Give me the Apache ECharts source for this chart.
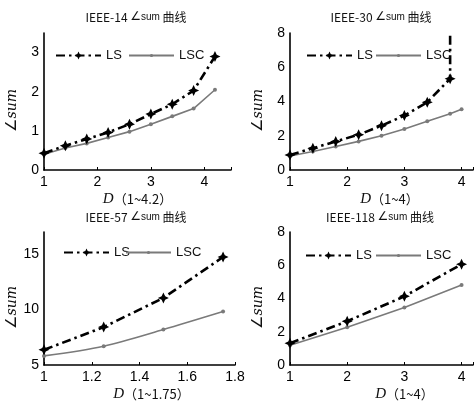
<!DOCTYPE html>
<html>
<head>
<meta charset="utf-8">
<script src="https://cdn.jsdelivr.net/npm/echarts@6/dist/echarts.min.js"></script>
<style>
html, body { margin: 0; padding: 0; background: #fff; }
#main { width: 476px; height: 403px; }
</style>
</head>
<body>
<div id="main"></div>
<script>
// IEEE-14
var x14 = [1, 1.4, 1.8, 2.2, 2.6, 3.0, 3.4, 3.8, 4.2];
var ls14 = [0.43, 0.62, 0.79, 0.96, 1.17, 1.43, 1.68, 2.03, 2.9];
var lsc14 = [0.4, 0.56, 0.68, 0.83, 0.98, 1.17, 1.37, 1.57, 2.05];
// IEEE-30 (LS jumps straight up at D=3.8)
var x30 = [1, 1.4, 1.8, 2.2, 2.6, 3.0, 3.4, 3.8];
var ls30 = [0.88, 1.27, 1.67, 2.06, 2.59, 3.18, 3.96, 5.33];
var ls30Tail = 8;
var x30c = [1, 1.4, 1.8, 2.2, 2.6, 3.0, 3.4, 3.8, 4.0];
var lsc30 = [0.82, 1.08, 1.37, 1.67, 2.0, 2.39, 2.84, 3.29, 3.55];
// IEEE-57
var x57 = [1, 1.25, 1.5, 1.75];
var ls57 = [6.37, 8.42, 11.05, 14.74];
var lsc57 = [5.82, 6.7, 8.2, 9.82];
// IEEE-118
var x118 = [1, 2, 3, 4];
var ls118 = [1.31, 2.63, 4.13, 6.06];
var lsc118 = [1.19, 2.27, 3.46, 4.81];

var titles = ['IEEE-14 ', 'IEEE-30 ', 'IEEE-57 ', 'IEEE-118 '];
var xNames = ['1~4.2', '1~4', '1~1.75', '1~4'];

function pairs(xs, ys) {
	return xs.map(function (x, i) { return [x, ys[i]]; });
}

var star = 'path://M5,0 L6.6,3.4 L10,5 L6.6,6.6 L5,10 L3.4,6.6 L0,5 L3.4,3.4 Z';
var font = 'Liberation Sans, Arial, sans-serif';

function lsSeries(idx, data) {
	return {
		name: 'LS', type: 'line', xAxisIndex: idx, yAxisIndex: idx,
		data: data, symbol: star, symbolSize: 11,
		itemStyle: { color: '#000' },
		lineStyle: { color: '#000', width: 2.6, type: [9, 4, 2.5, 4] },
		z: 3
	};
}
function lscSeries(idx, data, smooth) {
	return {
		name: 'LSC', type: 'line', xAxisIndex: idx, yAxisIndex: idx,
		data: data, symbol: 'circle', symbolSize: 4, smooth: smooth || false,
		itemStyle: { color: '#7a7a7a' },
		lineStyle: { color: '#7a7a7a', width: 1.6 },
		z: 2
	};
}

var grids = [
	{ left: 44, right: 245, top: 33, bottom: 233 },
	{ left: 290, right: 0, top: 33, bottom: 233 },
	{ left: 44, right: 241, top: 232, bottom: 35 },
	{ left: 290, right: 0, top: 232, bottom: 35 }
];
var xCfg = [
	{ min: 1, max: 4.5, interval: 1, pad: 0 },
	{ min: 1, max: 4.2, interval: 1, pad: 16 },
	{ min: 1, max: 1.8, interval: 0.2, pad: 24 },
	{ min: 1, max: 4.2, interval: 1, pad: 46 }
];
var yCfg = [
	{ min: 0, max: 3.5, interval: 1 },
	{ min: 0, max: 8, interval: 2 },
	{ min: 5, max: 17, interval: 5 },
	{ min: 0, max: 8, interval: 2 }
];
var titlePos = [[136, 11], [381, 11], [136, 211], [380, 211]];
// [LS left, LSC left, top]
var legendPos = [[55, 128, 49], [306, 375, 49], [63, 125, 246], [305, 375, 249]];

var axisLine = { show: true, onZero: false, lineStyle: { color: '#000', width: 1.6 } };

// only label the values that sit on the interval, not the extra max tick
function tickLabels(c) {
	return {
		color: '#000', fontSize: 14, fontFamily: font, margin: 5,
		formatter: function (v) {
			var k = (v - c.min) / c.interval;
			return Math.abs(k - Math.round(k)) < 1e-6 ? String(+v.toFixed(2)) : '';
		}
	};
}

var legends = [];
legendPos.forEach(function (p) {
	legends.push({
		data: ['LS'], left: p[0], top: p[2], padding: 0,
		itemWidth: 45, itemHeight: 10, selectedMode: false,
		textStyle: { color: '#111', fontSize: 13, fontFamily: font }
	});
	legends.push({
		data: ['LSC'], left: p[1], top: p[2], padding: 0,
		itemWidth: 45, itemHeight: 4, selectedMode: false,
		textStyle: { color: '#111', fontSize: 13, fontFamily: font }
	});
});

var option = {
	backgroundColor: '#fff',
	animation: false,
	title: titlePos.map(function (p, i) {
		return {
			text: '{a|' + titles[i] + '}{b|∠}{c|sum}{a| 曲线}',
			left: p[0], top: p[1], textAlign: 'center', padding: 0,
			textStyle: {
				fontWeight: 'normal',
				rich: {
					a: { fontSize: 12, color: '#111', fontWeight: 'normal', fontFamily: 'Noto Sans CJK SC, ' + font },
					b: { fontSize: 12, color: '#111', fontWeight: 'normal', fontFamily: 'DejaVu Sans' },
					c: { fontSize: 10, color: '#111', fontWeight: 'normal', fontFamily: font }
				}
			}
		};
	}),
	legend: legends,
	grid: grids,
	xAxis: xCfg.map(function (c, i) {
		return {
			type: 'value', gridIndex: i, min: c.min, max: c.max, interval: c.interval,
			name: '{d|D}{e|（' + xNames[i] + '）}', nameLocation: 'middle', nameGap: 22,
			nameTextStyle: {
				padding: [0, 0, 0, c.pad],
				rich: {
					d: { fontSize: 15, fontStyle: 'italic', fontFamily: 'Liberation Serif', color: '#111' },
					e: { fontSize: 13, fontFamily: 'Noto Sans CJK SC', color: '#111' }
				}
			},
			axisLine: axisLine,
			axisTick: { show: true, inside: true, length: 3, lineStyle: { color: '#000' } },
			axisLabel: tickLabels(c),
			splitLine: { show: false }
		};
	}),
	yAxis: yCfg.map(function (c, i) {
		return {
			type: 'value', gridIndex: i, min: c.min, max: c.max, interval: c.interval,
			name: '{b|∠}{c|sum}', nameLocation: 'middle', nameGap: 24, nameRotate: 90,
			nameTextStyle: {
				padding: [0, 18, 0, 0],
				rich: {
					b: { fontSize: 15, fontFamily: 'DejaVu Sans', color: '#111' },
					c: { fontSize: 14, fontStyle: 'italic', fontFamily: 'DejaVu Serif', color: '#111' }
				}
			},
			axisLine: axisLine,
			axisTick: { show: false },
			axisLabel: tickLabels(c),
			splitLine: { show: false }
		};
	}),
	series: [
		lsSeries(0, pairs(x14, ls14)),
		lscSeries(0, pairs(x14, lsc14)),
		lsSeries(1, pairs(x30, ls30).concat([{ value: [x30[x30.length - 1], ls30Tail], symbol: 'none' }])),
		lscSeries(1, pairs(x30c, lsc30)),
		lsSeries(2, pairs(x57, ls57)),
		lscSeries(2, pairs(x57, lsc57), 0.3),
		lsSeries(3, pairs(x118, ls118)),
		lscSeries(3, pairs(x118, lsc118))
	]
};

var chart = echarts.init(document.getElementById('main'));
chart.setOption(option);
</script>
</body>
</html>
